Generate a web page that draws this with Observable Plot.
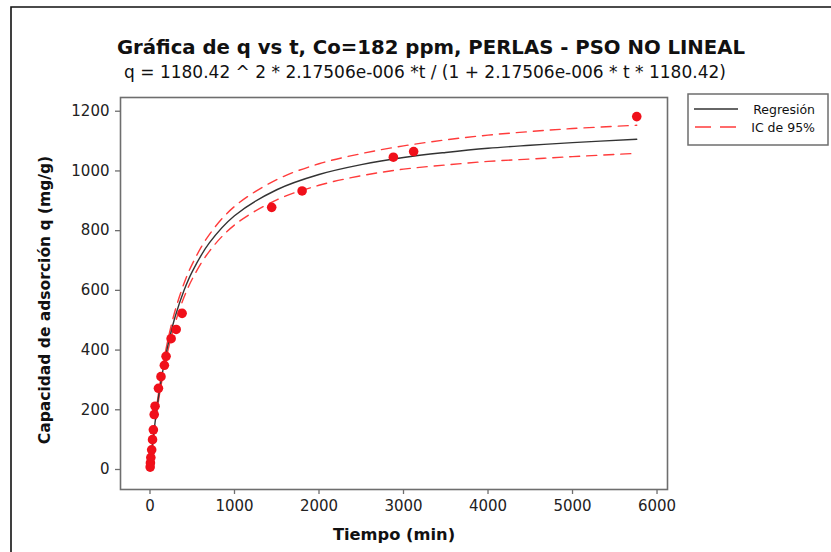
<!DOCTYPE html>
<html><head><meta charset="utf-8">
<script src="https://cdn.jsdelivr.net/npm/d3@7"></script>
<script src="https://cdn.jsdelivr.net/npm/@observablehq/plot@0.6"></script>
<style>body{margin:0;background:#fff} #chart{width:831px;height:552px}</style>
</head><body><div id="chart"></div>
<script>
const timeMin = [2, 5, 10, 20, 30, 40, 50, 60, 100, 130, 170, 190, 250, 310, 380, 1440, 1800, 2880, 3120, 5760];
const qObs    = [8, 22, 40, 66, 100, 133, 184, 212, 272, 311, 349, 379, 438, 469, 523, 878, 933, 1046, 1065, 1182];

// Regression curve and 95% CI bands
const fitT   = [0, 10, 20, 40, 60, 90, 120, 180, 240, 300, 400, 500, 700, 1000, 1500, 2000, 2500, 3000, 3500, 4000, 4500, 5000, 5760];
const fitQ   = [0, 29.5, 57.7, 110, 157.6, 221.6, 278, 373, 450, 514, 598, 663, 758, 850, 937, 988, 1021, 1045, 1062, 1076, 1086, 1095, 1106];
const upperQ = [0, 32.5, 62.7, 118, 167.6, 233.6, 292, 390, 469, 535, 621, 688, 786, 881, 971, 1024, 1058, 1084, 1104, 1120, 1132, 1142, 1153];
const lowerQ = [0, 26.5, 52.7, 102, 147.6, 209.6, 264, 356, 431, 493, 575, 638, 730, 819, 903, 952, 984, 1006, 1020, 1032, 1040, 1048, 1059];

const xTicks = [0, 1000, 2000, 3000, 4000, 5000, 6000];
const yTicks = [0, 200, 400, 600, 800, 1000, 1200];

const titleText = "Gráfica de q vs t, Co=182 ppm, PERLAS - PSO NO LINEAL";
const subtitleText = "q = 1180.42 ^ 2 * 2.17506e-006 *t / (1 + 2.17506e-006 * t * 1180.42)";
const xLabel = "Tiempo (min)";
const yLabel = "Capacidad de adsorción q (mg/g)";
const legendLabels = ["Regresión", "IC de 95%"];

const points = timeMin.map((t, i) => ({t, q: qObs[i]}));
const fit = fitT.map((t, i) => ({t, q: fitQ[i], lo: lowerQ[i], hi: upperQ[i]}));

const gray = "#6e6e6e";
const plot = Plot.plot({
  width: 831, height: 552,
  marginLeft: 120, marginRight: 164, marginTop: 97, marginBottom: 63,
  style: {fontFamily: "DejaVu Sans", fontSize: "15px", color: "#222", background: "#fff"},
  x: {domain: [-349, 6124]},
  y: {domain: [-67, 1246]},
  marks: [
    Plot.axisX({ticks: xTicks, tickFormat: d => String(d), tickSize: 5, tickPadding: 6, stroke: gray, strokeWidth: 1.3, label: null, fill: "#222"}),
    Plot.axisY({ticks: yTicks, tickFormat: d => String(d), tickSize: 5, tickPadding: 6, stroke: gray, strokeWidth: 1.3, label: null, fill: "#222"}),
    Plot.line(fit, {x: "t", y: "hi", stroke: "#ff3b3b", strokeWidth: 1.4, strokeDasharray: "10,7", curve: "catmull-rom"}),
    Plot.line(fit, {x: "t", y: "lo", stroke: "#ff3b3b", strokeWidth: 1.4, strokeDasharray: "10,7", curve: "catmull-rom"}),
    Plot.line(fit, {x: "t", y: "q", stroke: "#333", strokeWidth: 1.4, curve: "catmull-rom"}),
    Plot.dot(points, {x: "t", y: "q", r: 4.8, fill: "#f0101a"}),
    Plot.frame({stroke: gray, strokeWidth: 1.6})
  ]
});

const svg = d3.select(plot);
// outer border
svg.append("path").attr("d", "M11,552V7H831").attr("fill", "none").attr("stroke", "#111").attr("stroke-width", 1.6);
svg.append("text").attr("x", 431).attr("y", 54).attr("text-anchor", "middle")
  .attr("font-weight", "bold").attr("font-size", 19.7).attr("fill", "#111").text(titleText);
svg.append("text").attr("x", 425).attr("y", 78).attr("text-anchor", "middle")
  .attr("font-size", 17).attr("fill", "#111").text(subtitleText);
svg.append("text").attr("x", 394).attr("y", 540).attr("text-anchor", "middle")
  .attr("font-weight", "bold").attr("font-size", 16.3).attr("fill", "#111").text(xLabel);
svg.append("text").attr("transform", "translate(50,300) rotate(-90)").attr("text-anchor", "middle")
  .attr("font-weight", "bold").attr("font-size", 15.5).attr("fill", "#111").text(yLabel);
// legend
const lg = svg.append("g");
lg.append("rect").attr("x", 688).attr("y", 94).attr("width", 140).attr("height", 51)
  .attr("fill", "#fff").attr("stroke", gray).attr("stroke-width", 1.5);
lg.append("line").attr("x1", 694).attr("x2", 738).attr("y1", 109).attr("y2", 109).attr("stroke", "#333").attr("stroke-width", 1.4);
lg.append("line").attr("x1", 695).attr("x2", 736).attr("y1", 127).attr("y2", 127).attr("stroke", "#ff3b3b").attr("stroke-width", 1.4).attr("stroke-dasharray", "16,9");
lg.append("text").attr("x", 815).attr("y", 114).attr("text-anchor", "end").attr("font-size", 12.5).attr("fill", "#111").text(legendLabels[0]);
lg.append("text").attr("x", 815).attr("y", 132).attr("text-anchor", "end").attr("font-size", 12.5).attr("fill", "#111").text(legendLabels[1]);

document.getElementById("chart").appendChild(plot);
</script>
</body></html>
